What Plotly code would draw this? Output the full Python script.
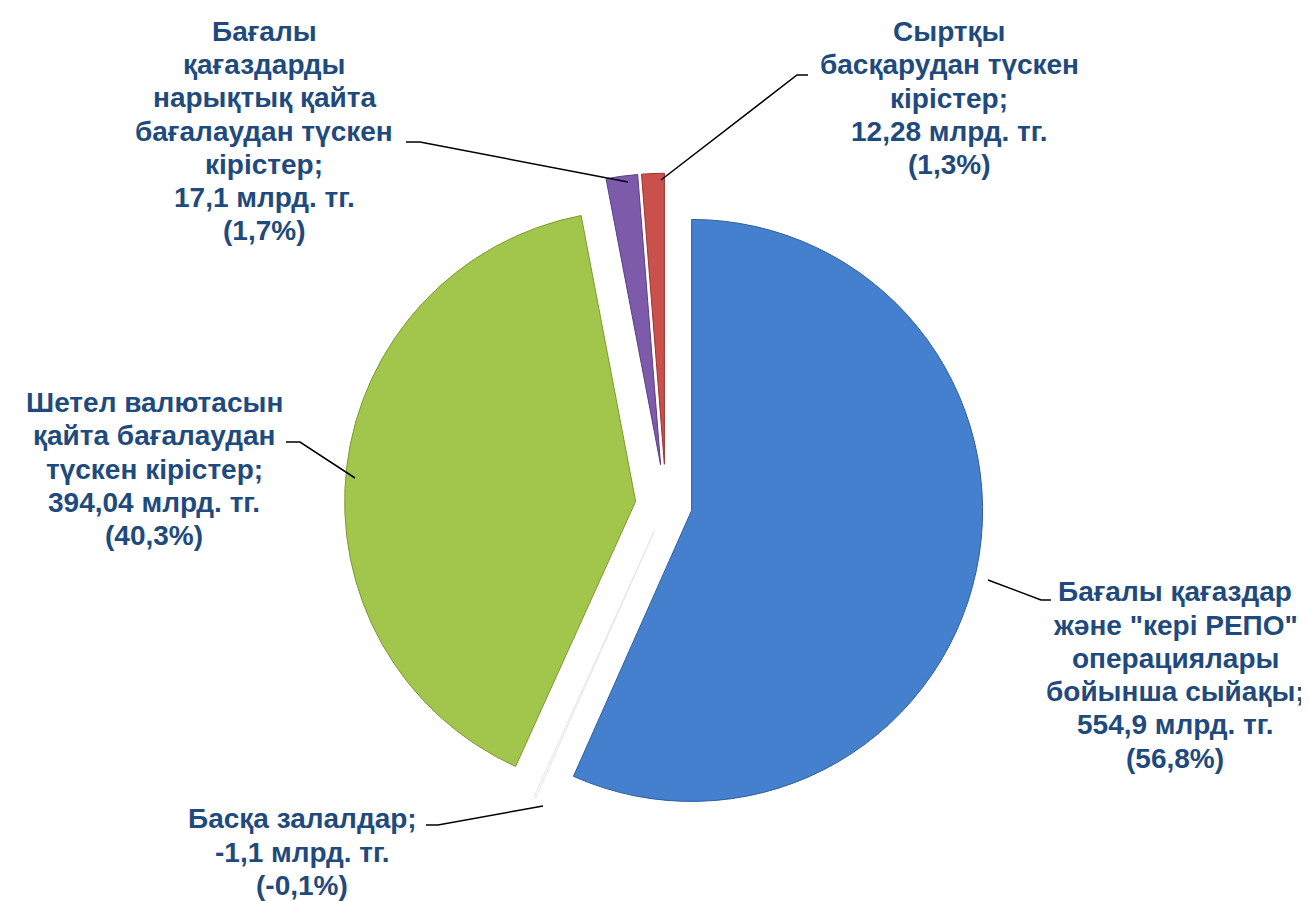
import plotly.graph_objects as go

# ---- data ----
names = [
    "Бағалы қағаздар<br>және \"кері РЕПО\"<br>операциялары<br>бойынша сыйақы",
    "Басқа залалдар",
    "Шетел валютасын<br>қайта бағалаудан<br>түскен кірістер",
    "Бағалы<br>қағаздарды<br>нарықтық қайта<br>бағалаудан түскен<br>кірістер",
    "Сыртқы<br>басқарудан түскен<br>кірістер",
]
values = [554.9, -1.1, 394.04, 17.1, 12.28]          # млрд. тг.
percents = [56.8, -0.1, 40.3, 1.7, 1.3]              # %
colors = ["#4480CD", "#FFFFFF", "#A2C64C", "#7D5BAA", "#C9504B"]
edge_colors = ["#2F5F9E", "#E6E6E6", "#7C9A33", "#5B3F85", "#9A3431"]
pulls = [0.09, 0.10, 0.105, 0.14, 0.14]

W, H = 1309, 901
TEXT_COLOR = "#1F4A7D"
FONT_SIZE = 28
LINE_H = 33.3


def fmt(v):
    return ("%g" % v).replace(".", ",")


def px(x, y):
    return x / W, 1 - y / H


# pie geometry (centre ~ (658,497), radius ~ 291 px)
cx, cy, r = 658, 497, 291
half = r * (1 + max(pulls))
dx0, dy1 = px(cx - half, cy - half)
dx1, dy0 = px(cx + half, cy + half)

fig = go.Figure()
fig.add_trace(go.Pie(
    labels=[n.replace("<br>", " ") for n in names],
    values=[abs(v) for v in values],
    sort=False,
    direction="clockwise",
    rotation=0,
    pull=pulls,
    textinfo="none",
    hoverinfo="label+value",
    marker=dict(colors=colors, line=dict(color=edge_colors, width=1)),
    domain=dict(x=[dx0, dx1], y=[dy0, dy1]),
    showlegend=False,
))

# label placement (pixel centres) and leader lines (pixel paths)
label_pos = [(1167, 667), (294, 844), (146, 461), (256, 123), (941, 90)]
leaders = [
    [(980, 572), (1033, 592), (1043, 592)],
    [(418, 817), (430, 817), (535, 798)],
    [(278, 434), (292, 434), (347, 470)],
    [(398, 134), (412, 134), (620, 174)],
    [(800, 67), (789, 67), (653, 172)],
]

annotations = []
shapes = []
for name, v, p, (lx, ly), path in zip(names, values, percents, label_pos, leaders):
    text = f"{name};<br>{fmt(v)} млрд. тг.<br>({fmt(p)}%)"
    lines = text.split("<br>")
    n = len(lines)
    for i, line in enumerate(lines):
        ax, ay = px(lx, ly + (i - (n - 1) / 2) * LINE_H)
        annotations.append(dict(
            x=ax, y=ay, xref="paper", yref="paper", text=line, showarrow=False,
            xanchor="center", yanchor="middle", align="center", borderpad=0,
            font=dict(family="Arial, Liberation Sans, sans-serif", size=FONT_SIZE,
                      color=TEXT_COLOR, weight="bold"),
        ))
    pts = [px(x, y) for x, y in path]
    d = "M " + " L ".join(f"{x:.5f},{y:.5f}" for x, y in pts)
    shapes.append(dict(type="path", path=d, xref="paper", yref="paper",
                       line=dict(color="black", width=1.5)))

fig.update_layout(
    width=W, height=H,
    margin=dict(l=0, r=0, t=0, b=0),
    paper_bgcolor="white", plot_bgcolor="white",
    annotations=annotations, shapes=shapes,
)

fig.write_html("out.html")
